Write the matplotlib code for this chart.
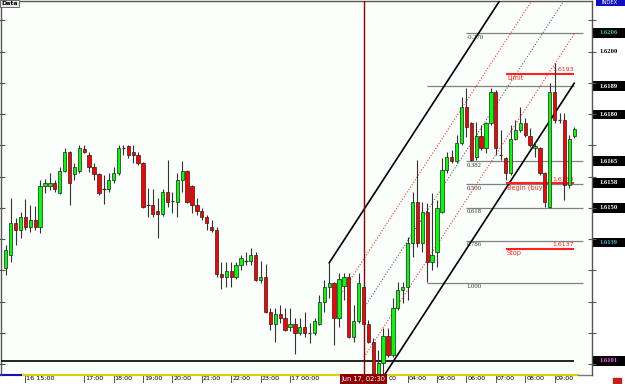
import matplotlib
matplotlib.use("Agg")
import matplotlib.pyplot as plt
from matplotlib.patches import Rectangle
from matplotlib.transforms import blended_transform_factory

# 10 minute bars, bar k opens at Jun 17 00:00 + 10*k minutes
bar_idx = list(range(-58, 59))
opens = [1.61308, 1.61349, 1.61452, 1.61429, 1.61471, 1.61439, 1.61461, 1.61439, 1.61570, 1.61570,
         1.61580, 1.61548, 1.61618, 1.61679, 1.61609, 1.61618, 1.61689, 1.61669, 1.61631, 1.61609,
         1.61561, 1.61561, 1.61589, 1.61612, 1.61692, 1.61698, 1.61679, 1.61669, 1.61644, 1.61509,
         1.61509, 1.61490, 1.61481, 1.61551, 1.61522, 1.61519, 1.61589, 1.61618, 1.61570, 1.61509,
         1.61490, 1.61471, 1.61439, 1.61429, 1.61289, 1.61279, 1.61298, 1.61279, 1.61317, 1.61330,
         1.61330, 1.61349, 1.61269, 1.61279, 1.61167, 1.61129, 1.61161, 1.61148, 1.61119, 1.61129,
         1.61100, 1.61119, 1.61100, 1.61100, 1.61129, 1.61199, 1.61247, 1.61260, 1.61148, 1.61250,
         1.61279, 1.61087, 1.61138, 1.61247, 1.61129, 1.61071, 1.60956, 1.61004, 1.61090, 1.61029,
         1.61180, 1.61237, 1.61247, 1.61388, 1.61519, 1.61388, 1.61487, 1.61327, 1.61359, 1.61487,
         1.61621, 1.61663, 1.61650, 1.61708, 1.61823, 1.61772, 1.61663, 1.61730, 1.61692, 1.61772,
         1.61871, 1.61669, 1.61660, 1.61612, 1.61721, 1.61750, 1.61772, 1.61730, 1.61692, 1.61692,
         1.61612, 1.61503, 1.61871, 1.61782, 1.61782, 1.61573, 1.61730]
highs = [1.61381, 1.61532, 1.61468, 1.61487, 1.61529, 1.61509, 1.61506, 1.61589, 1.61593, 1.61612,
         1.61589, 1.61631, 1.61692, 1.61682, 1.61644, 1.61701, 1.61701, 1.61679, 1.61644, 1.61612,
         1.61605, 1.61612, 1.61631, 1.61701, 1.61701, 1.61701, 1.61701, 1.61679, 1.61647, 1.61564,
         1.61561, 1.61532, 1.61561, 1.61653, 1.61551, 1.61612, 1.61650, 1.61621, 1.61573, 1.61532,
         1.61500, 1.61477, 1.61461, 1.61439, 1.61327, 1.61327, 1.61327, 1.61327, 1.61349, 1.61359,
         1.61372, 1.61359, 1.61330, 1.61321, 1.61180, 1.61180, 1.61189, 1.61180, 1.61180, 1.61148,
         1.61148, 1.61167, 1.61132, 1.61148, 1.61221, 1.61269, 1.61324, 1.61263, 1.61292, 1.61292,
         1.61292, 1.61189, 1.61292, 1.61263, 1.61141, 1.61084, 1.61045, 1.61116, 1.61116, 1.61212,
         1.61263, 1.61263, 1.61407, 1.61551, 1.61653, 1.61519, 1.61516, 1.61548, 1.61525, 1.61660,
         1.61679, 1.61685, 1.61733, 1.61855, 1.61884, 1.61775, 1.61775, 1.61766, 1.61775, 1.61884,
         1.61878, 1.61750, 1.61663, 1.61766, 1.61782, 1.61823, 1.61788, 1.61756, 1.61711, 1.61695,
         1.61615, 1.61900, 1.61964, 1.61804, 1.61804, 1.61733, 1.61759]
lows = [1.61285, 1.61327, 1.61381, 1.61404, 1.61429, 1.61423, 1.61429, 1.61420, 1.61548, 1.61557,
        1.61551, 1.61545, 1.61615, 1.61509, 1.61589, 1.61612, 1.61676, 1.61615, 1.61589, 1.61541,
        1.61513, 1.61551, 1.61580, 1.61605, 1.61669, 1.61660, 1.61644, 1.61637, 1.61500, 1.61471,
        1.61471, 1.61404, 1.61474, 1.61503, 1.61484, 1.61471, 1.61551, 1.61516, 1.61484, 1.61477,
        1.61461, 1.61429, 1.61423, 1.61279, 1.61241, 1.61247, 1.61247, 1.61273, 1.61301, 1.61317,
        1.61317, 1.61266, 1.61260, 1.61164, 1.61109, 1.61071, 1.61132, 1.61106, 1.61106, 1.61032,
        1.61093, 1.61087, 1.61068, 1.61093, 1.61125, 1.61167, 1.61212, 1.61061, 1.61119, 1.61205,
        1.61084, 1.61071, 1.61132, 1.61119, 1.61068, 1.60933, 1.60943, 1.60956, 1.61023, 1.61023,
        1.61173, 1.61196, 1.61205, 1.61343, 1.61375, 1.61359, 1.61263, 1.61301, 1.61311, 1.61484,
        1.61612, 1.61644, 1.61644, 1.61701, 1.61727, 1.61650, 1.61653, 1.61685, 1.61676, 1.61766,
        1.61669, 1.61653, 1.61589, 1.61605, 1.61718, 1.61743, 1.61727, 1.61695, 1.61663, 1.61605,
        1.61503, 1.61500, 1.61772, 1.61772, 1.61525, 1.61564, 1.61724]
closes = [1.61365, 1.61452, 1.61429, 1.61471, 1.61439, 1.61461, 1.61439, 1.61570, 1.61580, 1.61580,
          1.61561, 1.61618, 1.61679, 1.61580, 1.61631, 1.61692, 1.61679, 1.61631, 1.61609, 1.61548,
          1.61561, 1.61589, 1.61612, 1.61692, 1.61692, 1.61669, 1.61669, 1.61644, 1.61503, 1.61509,
          1.61481, 1.61481, 1.61551, 1.61519, 1.61522, 1.61589, 1.61618, 1.61519, 1.61509, 1.61490,
          1.61471, 1.61452, 1.61429, 1.61289, 1.61279, 1.61298, 1.61279, 1.61317, 1.61340, 1.61330,
          1.61349, 1.61269, 1.61279, 1.61167, 1.61129, 1.61161, 1.61148, 1.61109, 1.61129, 1.61100,
          1.61119, 1.61100, 1.61100, 1.61138, 1.61199, 1.61247, 1.61260, 1.61148, 1.61273, 1.61279,
          1.61087, 1.61138, 1.61260, 1.61129, 1.61071, 1.60949, 1.61004, 1.61090, 1.61029, 1.61180,
          1.61237, 1.61247, 1.61388, 1.61519, 1.61388, 1.61487, 1.61327, 1.61349, 1.61500, 1.61621,
          1.61663, 1.61650, 1.61708, 1.61823, 1.61759, 1.61653, 1.61730, 1.61692, 1.61772, 1.61871,
          1.61692, 1.61669, 1.61612, 1.61721, 1.61750, 1.61772, 1.61733, 1.61701, 1.61698, 1.61612,
          1.61519, 1.61871, 1.61782, 1.61782, 1.61573, 1.61721, 1.61753]

# hour labels (bar index where the hour starts); 03:00 is mostly under the cursor tag
hour_bars = [-54, -42, -36, -30, -24, -18, -12, -6, 0, 20, 24, 30, 36, 42, 48, 54]
hour_labels = ["16 15:00", "17:00", "18:00", "19:00", "20:00", "21:00", "22:00", "23:00",
               "17 00:00", "00", "04:00", "05:00", "06:00", "07:00", "08:00", "09:00"]
cursor_bar = 15
cursor_label = "Jun 17, 02:30"

# channel: upper line anchors, width, where each of the 5 lines starts
chan_bars = [8, 58]
chan_prices = [1.61324, 1.62530]
chan_width = 0.00631
chan_starts = [8, 10.4, 15.3, 15.1, 17]
chan_end = 58

# fibonacci
fib_low, fib_high = 1.6126, 1.6189
fib_low_bar, fib_high_bar = 28, 36
fib_levels = [-0.27, 0.382, 0.5, 0.618, 0.786, 1.0]
fib_end = 59.8

# pending order lines
order_names = ["Limit", "Begin (buy)", "Stop"]
order_prices = [1.6193, 1.6158, 1.6137]
order_start, order_end = 44, 58

support_price = 1.6101

# right side price tags
tag_prices = [1.6206, 1.6189, 1.6180, 1.6165, 1.6158, 1.6150, 1.6139, 1.6101]
tag_colors = ["#40c0c0", "white", "white", "white", "white", "white", "#40c0c0", "#ff60ff"]

fig = plt.figure(figsize=(6.25, 3.84), dpi=100)
fig.patch.set_facecolor("white")
ax = fig.add_axes([1/625, 9/384, 591/625, 374.5/384])
ax.set_facecolor("#fbfffb")
ax.set_xlim(-58.98, 61.63)
ax.set_ylim(1.60965, 1.62164)
for s in ["left", "top", "right"]:
    ax.spines[s].set_color("#555555")
    ax.spines[s].set_linewidth(1.0)
ax.spines["bottom"].set_visible(False)
ax.set_xticks([])
ax.set_yticks([1.6100 + 0.001 * i for i in range(12)])
ax.tick_params(axis="y", left=True, right=True, direction="inout", length=6,
               width=0.8, color="#555555", labelleft=False, labelright=False)

# candles
for k, o, h, l, c in zip(bar_idx, opens, highs, lows, closes):
    ax.vlines(k, l, h, color="#333333", lw=0.8, zorder=5)
    if abs(c - o) < 1e-6:
        ax.hlines(o, k - 0.35, k + 0.35, color="#333333", lw=0.9, zorder=6)
    else:
        col = "#00ff00" if c > o else "#ff0000"
        ax.add_patch(Rectangle((k - 0.33, min(o, c)), 0.66, abs(c - o), facecolor=col,
                               edgecolor="#222222", lw=0.5, zorder=6))

# channel lines
slope = (chan_prices[1] - chan_prices[0]) / (chan_bars[1] - chan_bars[0])
styles = [("black", "-", 1.2), ("#ff3030", (0, (1, 1.6)), 0.8), ("#606060", (0, (1, 1.6)), 0.8),
          ("#ff3030", (0, (1, 1.6)), 0.8), ("black", "-", 1.2)]
for i, (col, ls, lw) in enumerate(styles):
    off = chan_width * i / 4
    x0 = chan_starts[i]
    y0 = chan_prices[0] + slope * (x0 - chan_bars[0]) - off
    y1 = chan_prices[0] + slope * (chan_end - chan_bars[0]) - off
    ax.plot([x0, chan_end], [y0, y1], color=col, ls=ls, lw=lw, zorder=3)

# cursor line
ax.axvline(cursor_bar, color="#8b0000", lw=1.0, zorder=4)

# fib lines
rng = fib_high - fib_low
ax.hlines(fib_high, fib_low_bar, chan_end, color="#808080", lw=0.9, zorder=2)
for r in fib_levels:
    p = fib_high - r * rng
    x0 = fib_low_bar if r == 1.0 else fib_high_bar
    ax.hlines(p, x0, fib_end, color="#808080", lw=0.9, zorder=2)
    ax.text(fib_high_bar, p - 0.00005, f"{r:.3f}", fontsize=4.8, color="#303030",
            family="Liberation Serif", ha="left", va="top", zorder=2)

# order lines
for name, p in zip(order_names, order_prices):
    ax.hlines(p, order_start, order_end, color="#ff2020", lw=1.5, zorder=3)
    ax.text(order_start + 0.3, p - 0.00005, name, fontsize=4.7, color="#ff2020",
            ha="left", va="top", zorder=3)
    ax.text(order_end, p + 0.00004, f"{p:.4f}", fontsize=4.5, color="#ff2020",
            ha="right", va="bottom", zorder=3)

# support line
ax.hlines(support_price, ax.get_xlim()[0], chan_end, color="#111111", lw=1.3, zorder=3)

# right price tags
tr = blended_transform_factory(ax.transAxes, ax.transData)
ax.text(1.012, 1.6200, "1.6200", transform=tr, fontsize=4.8, family="Liberation Serif",
        weight="bold", color="black", ha="left", va="center")
for p, col in zip(tag_prices, tag_colors):
    ax.add_patch(Rectangle((1.0017, p - 0.00015), 0.06, 0.0003, transform=tr,
                           facecolor="black", edgecolor="none", clip_on=False))
    ax.text(1.012, p, f"{p:.4f}", transform=tr, fontsize=4.8, family="Liberation Serif",
            weight="bold", color=col, ha="left", va="center", clip_on=False)

# bottom axis strip
ta = blended_transform_factory(ax.transData, ax.transAxes)
ax.plot([0, 22/591], [0, 0], transform=ax.transAxes, color="#1010c0", lw=1.5, clip_on=False)
ax.plot([22/591, 577/591], [0, 0], transform=ax.transAxes, color="#e0d000", lw=1.5, clip_on=False)
ax.plot([577/591, 1], [0, 0], transform=ax.transAxes, color="#777777", lw=1.0, clip_on=False)
for k, lab in zip(hour_bars, hour_labels):
    if lab != "00":
        ax.plot([k, k], [-0.003, -0.02], transform=ta, color="#555555", lw=0.7, clip_on=False)
    ax.text(k + 0.2, -0.004, lab, transform=ta, fontsize=4.6, color="black",
            ha="left", va="top", clip_on=False)
ax.text(cursor_bar, -0.003, cursor_label, transform=ta, fontsize=4.8, color="white",
        ha="center", va="top", clip_on=False, zorder=10,
        bbox=dict(boxstyle="square,pad=0.25", facecolor="#8b0000", edgecolor="none"))

# chrome bits
fig.text(0.002, 0.997, "Data", fontsize=4.5, weight="bold", ha="left", va="top",
         bbox=dict(boxstyle="square,pad=0.15", facecolor="#e8e8e8", edgecolor="#555555", lw=0.6))
fig.patches.append(Rectangle((596/625, 378/384), 29/625, 6/384, transform=fig.transFigure,
                             facecolor="#1010c0", edgecolor="none"))
fig.text(610/625, 1.0, "INDEX", fontsize=3.8, color="white", ha="center", va="top")
fig.patches.append(Rectangle((612/625, 0.5/384), 10/625, 7/384, transform=fig.transFigure,
                             facecolor="#c02020", edgecolor="white", lw=0.5))

fig.savefig("out.png", dpi=100)
